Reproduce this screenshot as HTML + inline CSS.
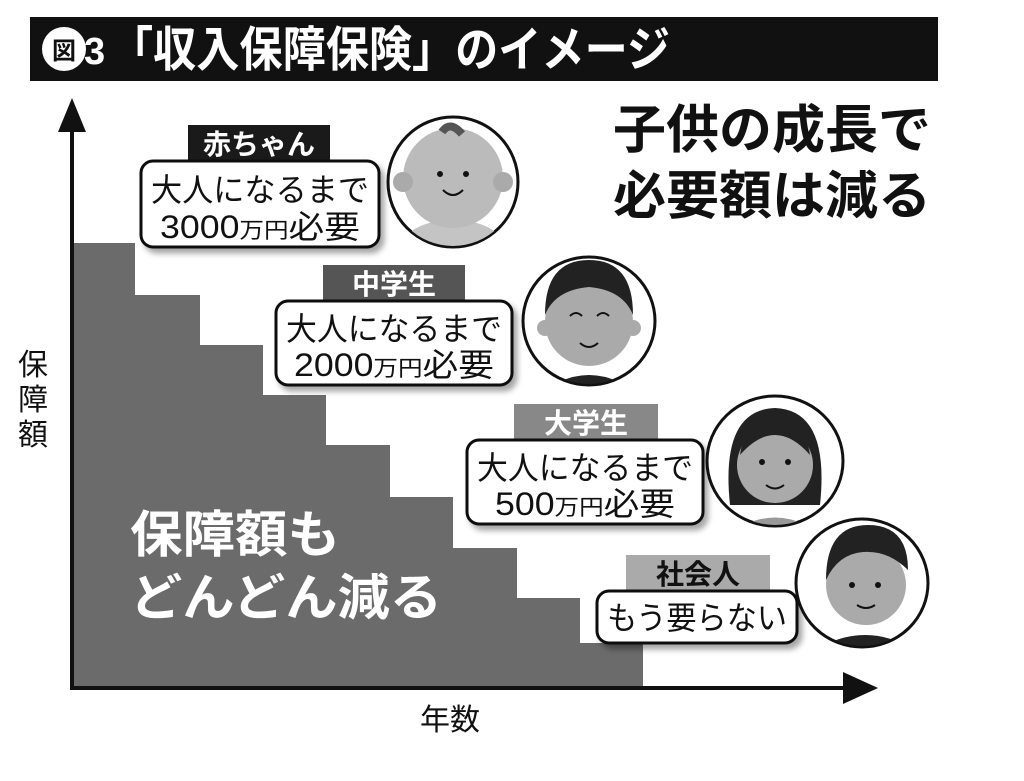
<!DOCTYPE html>
<html><head><meta charset="utf-8"><style>
html,body{margin:0;padding:0;background:#fff;width:1024px;height:781px;overflow:hidden}
svg{display:block}
text{font-family:"Liberation Sans","Noto Sans CJK JP",sans-serif}
</style></head><body>
<svg width="1024" height="781" viewBox="0 0 1024 781" xmlns="http://www.w3.org/2000/svg">
<defs>
<filter id="sh" x="-10%" y="-10%" width="130%" height="140%"><feDropShadow dx="4" dy="5" stdDeviation="3" flood-color="#000" flood-opacity="0.35"/></filter>
<clipPath id="c1"><ellipse cx="453" cy="182" rx="64" ry="64"/></clipPath>
<clipPath id="c2"><ellipse cx="589" cy="321" rx="65" ry="63"/></clipPath>
<clipPath id="c3"><ellipse cx="775" cy="461" rx="67" ry="64"/></clipPath>
<clipPath id="c4"><ellipse cx="862" cy="583" rx="65" ry="63"/></clipPath>
</defs>
<!-- header -->
<rect x="30" y="17" width="908" height="64" fill="#111"/>
<circle cx="64" cy="49" r="22" fill="#fff"/>
<text x="52" y="59" font-size="24" font-weight="bold" fill="#111">図</text>
<text x="84" y="64" font-size="38" font-weight="bold" fill="#fff">3</text>
<text x="110" y="66" font-size="48" font-weight="bold" fill="#fff" textLength="560" lengthAdjust="spacingAndGlyphs">「収入保障保険」のイメージ</text>
<!-- staircase -->
<path d="M72,243 H135 V295 H200 V345 H263 V395 H326 V445 H390 V497 H453 V548 H517 V598 H580 V643 H643 V688 H72 Z" fill="#6b6b6b"/>
<!-- axes -->
<line x1="72" y1="125" x2="72" y2="690" stroke="#111" stroke-width="4"/>
<polygon points="72,98 58,132 86,132" fill="#111"/>
<line x1="70" y1="688" x2="850" y2="688" stroke="#111" stroke-width="4"/>
<polygon points="878,688 843,672 843,704" fill="#111"/>
<text x="18" y="375" font-size="30" fill="#111">保</text>
<text x="18" y="410" font-size="30" fill="#111">障</text>
<text x="18" y="445" font-size="30" fill="#111">額</text>
<text x="420" y="730" font-size="30" fill="#111">年数</text>
<!-- right text -->
<text x="613" y="148" font-size="52" font-weight="bold" fill="#111" textLength="318" lengthAdjust="spacingAndGlyphs">子供の成長で</text>
<text x="613" y="214" font-size="52" font-weight="bold" fill="#111" textLength="318" lengthAdjust="spacingAndGlyphs">必要額は減る</text>
<!-- inner text -->
<text x="130" y="552" font-size="50" font-weight="bold" fill="#fff" textLength="210" lengthAdjust="spacingAndGlyphs">保障額も</text>
<text x="130" y="615" font-size="50" font-weight="bold" fill="#fff" textLength="312" lengthAdjust="spacingAndGlyphs">どんどん減る</text>
<!-- labels -->
<rect x="188" y="125" width="142" height="36" fill="#1a1a1a"/>
<text x="259" y="154" font-size="28" font-weight="bold" fill="#fff" text-anchor="middle">赤ちゃん</text>
<rect x="323" y="265" width="142" height="36" fill="#555"/>
<text x="394" y="294" font-size="28" font-weight="bold" fill="#fff" text-anchor="middle">中学生</text>
<rect x="514" y="404" width="144" height="36" fill="#888"/>
<text x="586" y="433" font-size="28" font-weight="bold" fill="#fff" text-anchor="middle">大学生</text>
<rect x="626" y="555" width="144" height="36" fill="#aaa"/>
<text x="698" y="584" font-size="28" font-weight="bold" fill="#111" text-anchor="middle">社会人</text>
<!-- bubbles -->
<g filter="url(#sh)" fill="#fff" stroke="#111" stroke-width="3">
<rect x="141" y="161" width="238" height="86" rx="12"/>
<rect x="276" y="301" width="236" height="84" rx="12"/>
<rect x="467" y="440" width="236" height="84" rx="12"/>
<rect x="597" y="591" width="200" height="52" rx="12"/>
</g>
<g font-size="32" fill="#111" text-anchor="middle">
<text x="260" y="201" textLength="218" lengthAdjust="spacingAndGlyphs">大人になるまで</text>
<text x="260" y="238" textLength="200" lengthAdjust="spacingAndGlyphs">3000<tspan font-size="22">万円</tspan>必要</text>
<text x="394" y="340" textLength="216" lengthAdjust="spacingAndGlyphs">大人になるまで</text>
<text x="394" y="376" textLength="200" lengthAdjust="spacingAndGlyphs">2000<tspan font-size="22">万円</tspan>必要</text>
<text x="585" y="479" textLength="216" lengthAdjust="spacingAndGlyphs">大人になるまで</text>
<text x="585" y="515" textLength="180" lengthAdjust="spacingAndGlyphs">500<tspan font-size="22">万円</tspan>必要</text>
<text x="697" y="629" textLength="180" lengthAdjust="spacingAndGlyphs">もう要らない</text>
</g>
<!-- faces -->
<g stroke="#111" stroke-width="3" fill="#fff">
<ellipse cx="453" cy="182" rx="65" ry="65"/>
<ellipse cx="589" cy="321" rx="66" ry="64"/>
<ellipse cx="775" cy="461" rx="68" ry="65"/>
<ellipse cx="862" cy="583" rx="66" ry="64"/>
</g>
<g clip-path="url(#c1)">
<ellipse cx="453" cy="245" rx="50" ry="25" fill="#c4c4c4"/>
<circle cx="453" cy="178" r="50" fill="#bbb"/>
<circle cx="403" cy="182" r="10" fill="#aaa"/><circle cx="503" cy="182" r="10" fill="#aaa"/>
<path d="M442,132 q8,-12 20,2" stroke="#555" stroke-width="8" fill="none"/>
<circle cx="440" cy="174" r="3" fill="#111"/><circle cx="466" cy="174" r="3" fill="#111"/>
<path d="M443,190 q10,10 20,0" stroke="#111" stroke-width="2" fill="none"/>
</g>
<g clip-path="url(#c2)">
<path d="M545,390 q44,-30 88,0z" fill="#222"/>
<circle cx="589" cy="322" r="44" fill="#aaa"/>
<path d="M545,315 q0,-55 44,-55 q44,0 44,55 q-10,-25 -44,-28 q-34,3 -44,28z" fill="#222"/>
<circle cx="545" cy="328" r="8" fill="#aaa"/><circle cx="633" cy="328" r="8" fill="#aaa"/>
<path d="M570,316 q6,-6 12,0 M597,316 q6,-6 12,0 M580,343 q9,8 18,0" stroke="#111" stroke-width="2" fill="none"/>
</g>
<g clip-path="url(#c3)">
<path d="M730,505 q-10,-95 45,-97 q55,2 45,97z" fill="#222"/>
<path d="M735,530 q40,-25 80,0z" fill="#999"/>
<circle cx="775" cy="465" r="38" fill="#aaa"/>
<path d="M740,455 q35,-40 70,0 q-5,-35 -35,-38 q-30,3 -35,38z" fill="#222"/>
<circle cx="762" cy="462" r="3" fill="#111"/><circle cx="788" cy="462" r="3" fill="#111"/>
<path d="M766,485 q9,7 18,0" stroke="#111" stroke-width="2" fill="none"/>
</g>
<g clip-path="url(#c4)">
<path d="M815,650 q50,-30 100,0z" fill="#222"/>
<circle cx="866" cy="585" r="40" fill="#aaa"/>
<path d="M826,580 q0,-55 42,-55 q40,0 40,45 q-20,-20 -45,-18 q-25,2 -37,28z" fill="#222"/>
<circle cx="852" cy="585" r="3" fill="#111"/><circle cx="878" cy="585" r="3" fill="#111"/>
<path d="M857,605 q9,6 18,0" stroke="#111" stroke-width="2" fill="none"/>
</g>
</svg>
</body></html>
